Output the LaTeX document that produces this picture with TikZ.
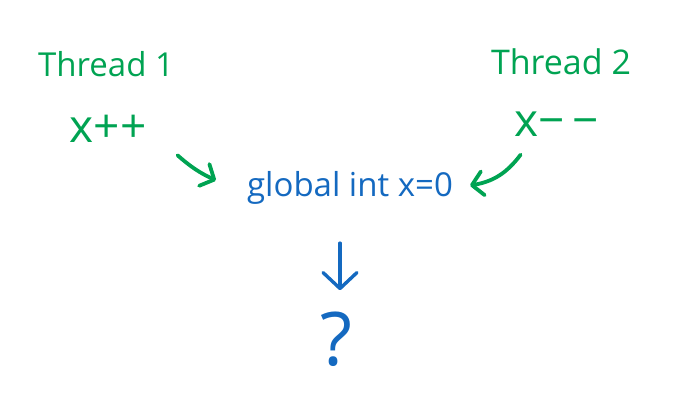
\documentclass[tikz,border=0pt]{standalone}
\usepackage{fontspec}
\setmainfont{Open Sans}
\usetikzlibrary{arrows.meta,calc}
\definecolor{threadgreen}{RGB}{0,163,82}
\definecolor{globblue}{RGB}{20,105,192}

\begin{document}
\begin{tikzpicture}[x=1pt,y=1pt,
    lbl/.style={inner sep=0pt, anchor=base},
    hand/.style={line width=3.8pt, line cap=round, line join=round,
      -{Straight Barb[length=11pt,width=24pt,round]}}]
    \useasboundingbox (0,0) rectangle (676,412);

    % --- threads ---
    \node[lbl, threadgreen, font=\fontsize{33}{36}\selectfont] (thr1) at (106,335) {Thread 1};
    \node[lbl, threadgreen, font=\fontsize{34}{38}\selectfont] (thr2) at (561,337) {Thread 2};

    % --- operations ---
    \node[lbl, threadgreen, font=\fontsize{46}{50}\selectfont] (incr) at (108,269) {x++};
    \node[lbl, threadgreen, font=\fontsize{46}{50}\selectfont] (decr) at (557,275) {x−\,−};

    % --- shared variable ---
    \node[lbl, globblue, font=\fontsize{33}{36}\selectfont] (glob) at (350,215) {global int x=0};

    % --- result ---
    \node[lbl, globblue, font=\fontsize{74}{80}\selectfont] (result) at (336,47) {?};

    % --- arrows ---
    \draw[hand, threadgreen] ($(incr.east)+(31,-26)$) to[bend right=8] ($(glob.west)+(-31,8)$);
    \draw[hand, threadgreen] ($(decr.west)+(6,-30)$) to[bend left=22] ($(glob.east)+(17,3)$);
    \draw[hand, globblue, line width=3.4pt, -{Straight Barb[length=16pt,width=34pt,round]}]
      ($(glob.south)+(-10,-38)$) -- ($(result.north)+(4,21)$);
\end{tikzpicture}
\end{document}
